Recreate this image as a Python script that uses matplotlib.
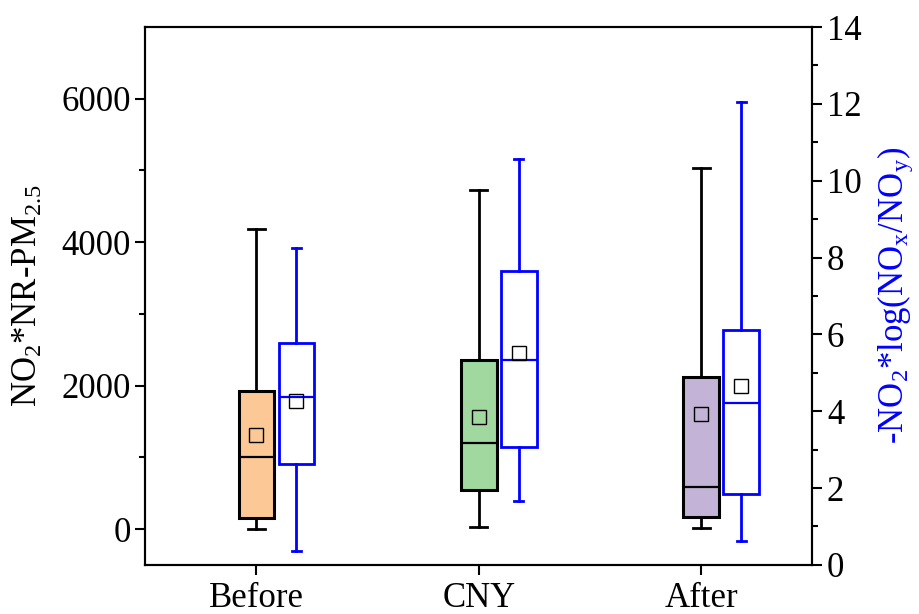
import matplotlib
matplotlib.use('Agg')
import matplotlib.pyplot as plt

plt.rcParams['font.family'] = 'Liberation Serif'
plt.rcParams['mathtext.fontset'] = 'custom'
plt.rcParams['mathtext.rm'] = 'Liberation Serif'
plt.rcParams['mathtext.it'] = 'Liberation Serif:italic'

periods = ['Before', 'CNY', 'After']

# NO2*NR-PM2.5 (left axis)
pm_whislo = [0, 24, 8]
pm_q1 = [158, 548, 161]
pm_med = [1000, 1193, 586]
pm_q3 = [1922, 2361, 2116]
pm_whishi = [4190, 4730, 5033]
pm_mean = [1305, 1564, 1608]

# -NO2*log(NOx/NOy) (right axis)
nx_whislo = [0.37, 1.65, 0.63]
nx_q1 = [2.63, 3.06, 1.85]
nx_med = [4.37, 5.33, 4.21]
nx_q3 = [5.78, 7.66, 6.11]
nx_whishi = [8.25, 10.57, 12.05]
nx_mean = [4.27, 5.52, 4.66]

fills = ['#FCC896', '#A0D8A0', '#C3B3D6']

fig = plt.figure(figsize=(9.19, 6.14), dpi=100)
ax = fig.add_axes([0.158, 0.08, 0.726, 0.876])
ax2 = ax.twinx()

def make_stats(lo, q1, med, q3, hi, mean):
    return [dict(whislo=lo[i], q1=q1[i], med=med[i], q3=q3[i], whishi=hi[i],
                 mean=mean[i], fliers=[]) for i in range(len(lo))]

pos = [1, 2, 3]
bp1 = ax.bxp(make_stats(pm_whislo, pm_q1, pm_med, pm_q3, pm_whishi, pm_mean),
             positions=pos, widths=0.16, capwidths=0.075, patch_artist=True,
             showmeans=True, showfliers=False,
             boxprops=dict(edgecolor='black', linewidth=2.2),
             whiskerprops=dict(color='black', linewidth=2),
             capprops=dict(color='black', linewidth=2),
             medianprops=dict(color='black', linewidth=1.6),
             meanprops=dict(marker='s', markersize=10, markerfacecolor='none',
                            markeredgecolor='black', markeredgewidth=1))
for b, c in zip(bp1['boxes'], fills):
    b.set_facecolor(c)

pos2 = [p + 0.18 for p in pos]
bp2 = ax2.bxp(make_stats(nx_whislo, nx_q1, nx_med, nx_q3, nx_whishi, nx_mean),
              positions=pos2, widths=0.16, capwidths=0.04, patch_artist=True,
              showmeans=True, showfliers=False,
              boxprops=dict(edgecolor='blue', facecolor='none', linewidth=2),
              whiskerprops=dict(color='blue', linewidth=2),
              capprops=dict(color='blue', linewidth=2),
              medianprops=dict(color='blue', linewidth=1.6),
              meanprops=dict(marker='s', markersize=10, markerfacecolor='none',
                             markeredgecolor='black', markeredgewidth=1))

ax.set_xlim(0.5, 3.5)
ax.set_ylim(-500, 7000)
ax2.set_ylim(0, 14)
ax.set_xticks(pos)
ax.set_xticklabels(periods)
ax.set_yticks([0, 2000, 4000, 6000])
ax.set_yticks([1000, 3000, 5000], minor=True)
ax2.set_yticks(range(0, 15, 2))
ax2.set_yticks(range(1, 15, 2), minor=True)

for a in (ax, ax2):
    for s in a.spines.values():
        s.set_linewidth(1.5)
    a.tick_params(which='major', direction='out', length=7, width=1.5, labelsize=25)
    a.tick_params(which='minor', direction='out', length=4, width=1.5)
ax.tick_params(axis='x', pad=5)

ax.set_ylabel('NO$_2$*NR-PM$_{2.5}$', fontsize=25, labelpad=12)
ax2.set_ylabel('-NO$_2$*log(NO$_\\mathrm{x}$/NO$_\\mathrm{y}$)', fontsize=25,
               color='blue', labelpad=10)

fig.savefig('out.png', dpi=100)
